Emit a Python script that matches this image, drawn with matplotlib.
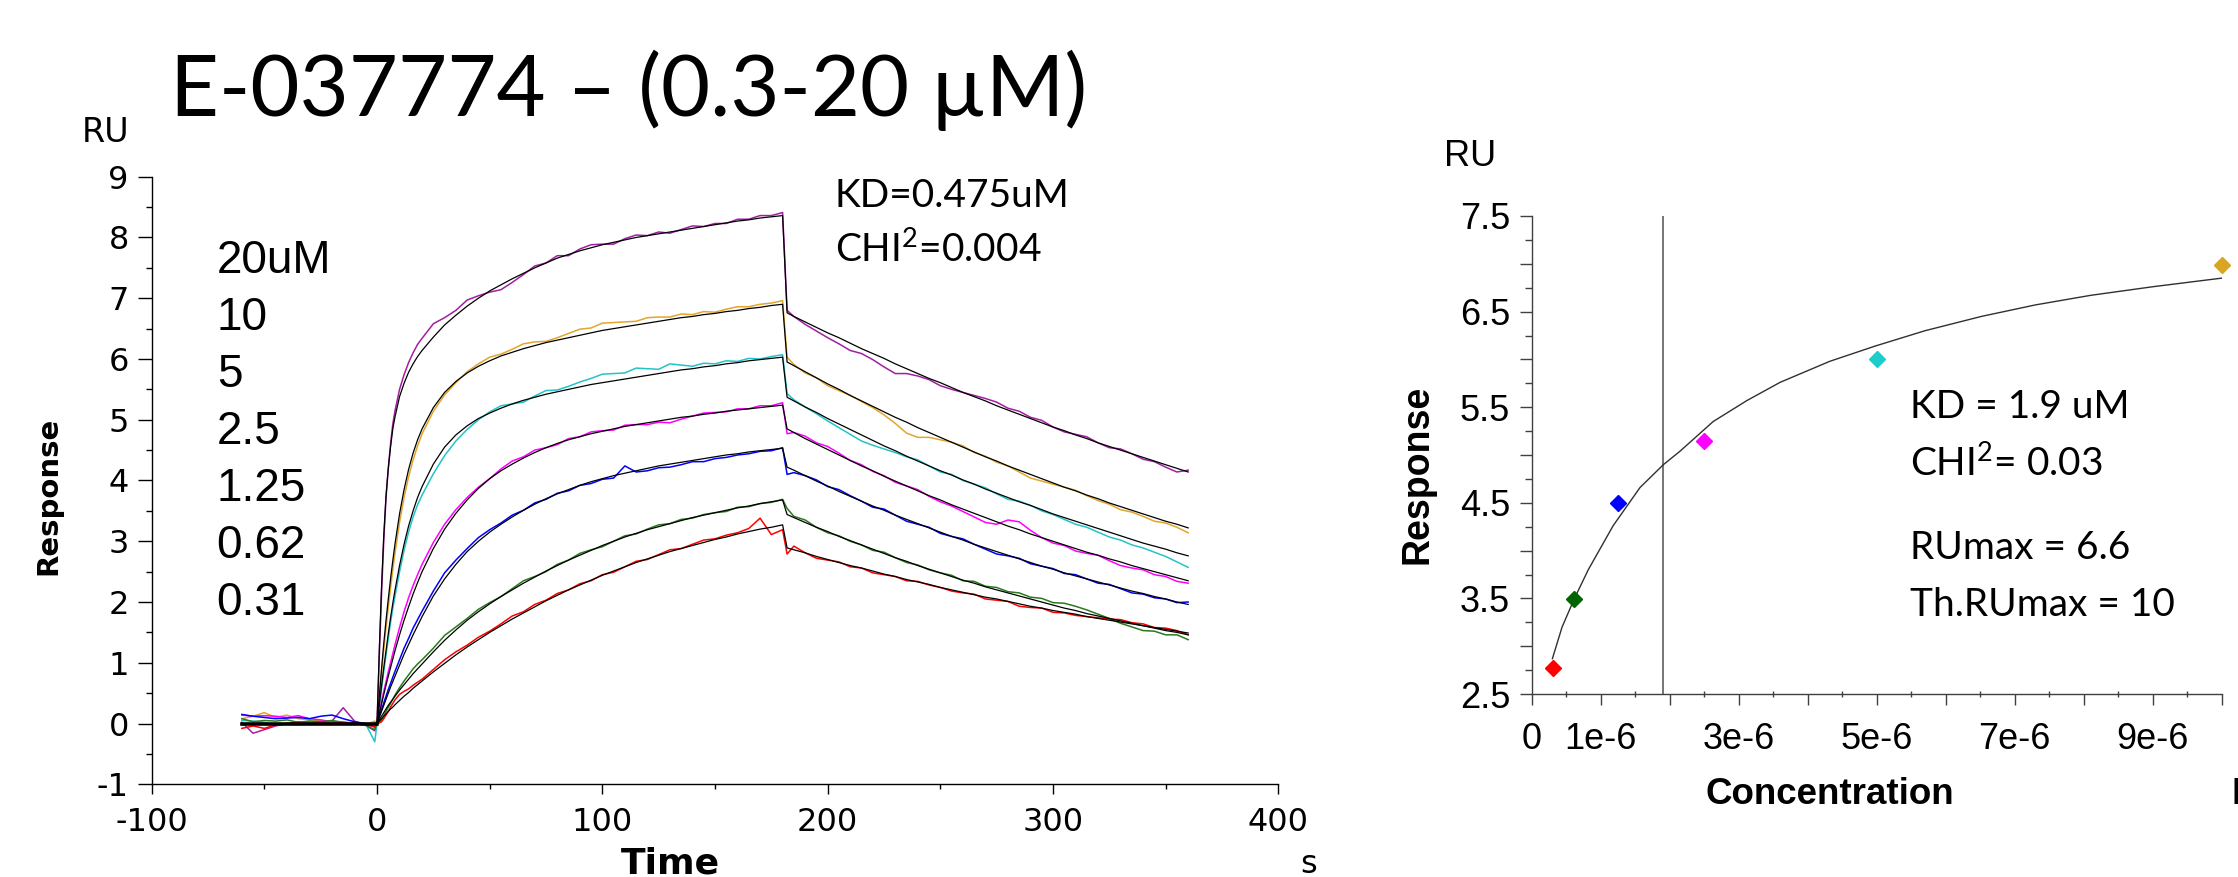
import numpy as np
import matplotlib.pyplot as plt
from matplotlib.ticker import MultipleLocator

plt.rcParams["axes.unicode_minus"] = False
plt.rcParams["mathtext.fontset"] = "custom"
plt.rcParams["mathtext.rm"] = "Lato"
plt.rcParams["mathtext.it"] = "Lato"

# ---- sensorgram time grids (s) ----
t_pre = [-60, -55, -50, -45, -40, -35, -30, -25, -20, -15, -10, -5, -1]
t_on = [0, 1, 2, 3, 4, 5, 6, 7, 8, 10, 12, 14, 16, 18, 20, 25, 30, 35, 40, 45, 50,
        55, 60, 65, 70, 75, 80, 85, 90, 95, 100, 105, 110, 115, 120, 125, 130, 135,
        140, 145, 150, 155, 160, 165, 170, 175, 180]
t_off = [182, 185, 190, 195, 200, 205, 210, 215, 220, 225, 230, 235, 240, 245, 250,
         255, 260, 265, 270, 275, 280, 285, 290, 295, 300, 305, 310, 315, 320, 325,
         330, 335, 340, 345, 350, 355, 360]

# ---- 1:1 fitted curves (RU), association / dissociation ----
on_20 = [0, 1.2, 2.25, 3.1, 3.75, 4.2, 4.55, 4.85, 5.05, 5.38, 5.6, 5.78, 5.92, 6.04, 6.14,
         6.36, 6.56, 6.72, 6.87, 7.0, 7.12, 7.22, 7.32, 7.41, 7.5, 7.58, 7.66, 7.72, 7.78,
         7.83, 7.88, 7.92, 7.96, 8.0, 8.03, 8.06, 8.09, 8.12, 8.15, 8.18, 8.21, 8.24, 8.27,
         8.29, 8.32, 8.34, 8.36]
on_10 = [0, 0.45, 0.9, 1.32, 1.7, 2.05, 2.38, 2.68, 2.96, 3.45, 3.85, 4.18, 4.45, 4.67, 4.85,
         5.2, 5.45, 5.63, 5.77, 5.88, 5.97, 6.05, 6.11, 6.17, 6.22, 6.27, 6.31, 6.35, 6.39,
         6.43, 6.47, 6.5, 6.53, 6.56, 6.59, 6.62, 6.65, 6.68, 6.7, 6.73, 6.75, 6.78, 6.8,
         6.83, 6.85, 6.88, 6.9]
on_5 = [0, 0.3, 0.62, 0.92, 1.2, 1.48, 1.74, 1.98, 2.2, 2.6, 2.95, 3.25, 3.5, 3.72, 3.9,
        4.27, 4.55, 4.75, 4.9, 5.02, 5.11, 5.19, 5.26, 5.32, 5.37, 5.42, 5.46, 5.5, 5.54,
        5.58, 5.61, 5.64, 5.67, 5.7, 5.73, 5.76, 5.79, 5.82, 5.84, 5.87, 5.89, 5.92, 5.94,
        5.97, 5.99, 6.01, 6.03]
on_2_5 = [0, 0.16, 0.32, 0.48, 0.63, 0.78, 0.92, 1.06, 1.2, 1.46, 1.7, 1.92, 2.13, 2.32, 2.5,
          2.88, 3.2, 3.46, 3.68, 3.87, 4.03, 4.16, 4.27, 4.37, 4.46, 4.54, 4.61, 4.67, 4.72,
          4.77, 4.81, 4.85, 4.89, 4.92, 4.95, 4.98, 5.01, 5.04, 5.06, 5.09, 5.11, 5.14, 5.16,
          5.18, 5.2, 5.22, 5.24]
on_1_25 = [0, 0.1, 0.2, 0.3, 0.4, 0.5, 0.6, 0.69, 0.78, 0.96, 1.14, 1.3, 1.46, 1.61, 1.76,
           2.1, 2.38, 2.62, 2.83, 3.0, 3.15, 3.28, 3.4, 3.51, 3.61, 3.7, 3.78, 3.85, 3.92,
           3.98, 4.03, 4.08, 4.12, 4.16, 4.2, 4.24, 4.27, 4.3, 4.33, 4.36, 4.39, 4.42, 4.44,
           4.47, 4.49, 4.51, 4.53]
on_0_62 = [0, 0.06, 0.12, 0.18, 0.24, 0.3, 0.35, 0.4, 0.45, 0.55, 0.64, 0.73, 0.82, 0.9, 0.98,
           1.18, 1.37, 1.54, 1.7, 1.84, 1.97, 2.09, 2.2, 2.31, 2.41, 2.51, 2.6, 2.69, 2.77,
           2.85, 2.93, 3.0, 3.07, 3.13, 3.19, 3.24, 3.29, 3.34, 3.39, 3.43, 3.47, 3.51, 3.55,
           3.58, 3.62, 3.65, 3.68]
on_0_31 = [0, 0.04, 0.08, 0.12, 0.16, 0.2, 0.24, 0.27, 0.31, 0.38, 0.45, 0.51, 0.58, 0.64, 0.7,
           0.85, 0.99, 1.13, 1.26, 1.38, 1.5, 1.61, 1.72, 1.82, 1.92, 2.02, 2.11, 2.2, 2.28,
           2.36, 2.44, 2.51, 2.58, 2.65, 2.71, 2.77, 2.83, 2.88, 2.93, 2.98, 3.03, 3.07, 3.12,
           3.16, 3.2, 3.23, 3.27]

off_20 = [6.76, 6.70, 6.61, 6.52, 6.43, 6.35, 6.26, 6.17, 6.09, 6.01, 5.92, 5.84, 5.76, 5.68,
          5.61, 5.53, 5.45, 5.38, 5.31, 5.23, 5.16, 5.09, 5.02, 4.95, 4.88, 4.82, 4.75, 4.69,
          4.62, 4.56, 4.50, 4.44, 4.38, 4.32, 4.26, 4.20, 4.14]
off_10 = [5.95, 5.89, 5.79, 5.69, 5.59, 5.50, 5.40, 5.31, 5.22, 5.13, 5.04, 4.96, 4.87, 4.79,
          4.71, 4.63, 4.55, 4.47, 4.39, 4.32, 4.24, 4.17, 4.10, 4.03, 3.96, 3.89, 3.83, 3.76,
          3.70, 3.63, 3.57, 3.51, 3.45, 3.39, 3.33, 3.28, 3.22]
off_5 = [5.37, 5.31, 5.21, 5.12, 5.02, 4.93, 4.84, 4.75, 4.66, 4.57, 4.49, 4.40, 4.32, 4.24,
         4.16, 4.09, 4.01, 3.94, 3.86, 3.79, 3.72, 3.65, 3.59, 3.52, 3.45, 3.39, 3.33, 3.27,
         3.21, 3.15, 3.09, 3.03, 2.97, 2.92, 2.87, 2.81, 2.76]
off_2_5 = [4.85, 4.79, 4.69, 4.60, 4.51, 4.42, 4.33, 4.24, 4.16, 4.07, 3.99, 3.91, 3.83, 3.75,
           3.68, 3.60, 3.53, 3.46, 3.39, 3.32, 3.25, 3.19, 3.12, 3.06, 3.00, 2.94, 2.88, 2.82,
           2.77, 2.71, 2.66, 2.60, 2.55, 2.50, 2.45, 2.40, 2.35]
off_1_25 = [4.22, 4.17, 4.08, 3.99, 3.91, 3.82, 3.74, 3.66, 3.58, 3.51, 3.43, 3.36, 3.29, 3.22,
            3.15, 3.08, 3.02, 2.95, 2.89, 2.83, 2.77, 2.71, 2.65, 2.59, 2.54, 2.48, 2.43, 2.38,
            2.33, 2.28, 2.23, 2.18, 2.14, 2.09, 2.05, 2.00, 1.96]
off_0_62 = [3.44, 3.39, 3.31, 3.23, 3.16, 3.08, 3.01, 2.94, 2.87, 2.80, 2.73, 2.67, 2.60, 2.54,
            2.48, 2.42, 2.36, 2.31, 2.25, 2.20, 2.15, 2.10, 2.05, 2.00, 1.95, 1.90, 1.86, 1.81,
            1.77, 1.73, 1.69, 1.65, 1.61, 1.57, 1.53, 1.50, 1.46]
off_0_31 = [2.89, 2.86, 2.81, 2.75, 2.70, 2.65, 2.60, 2.56, 2.51, 2.46, 2.42, 2.37, 2.33, 2.29,
            2.24, 2.20, 2.16, 2.12, 2.08, 2.05, 2.01, 1.97, 1.93, 1.90, 1.86, 1.83, 1.80, 1.76,
            1.73, 1.70, 1.67, 1.64, 1.61, 1.58, 1.55, 1.52, 1.49]

# ---- measured traces: baseline (0.01 RU) and residuals from the fit (0.01 RU) ----
pre_20 = [2, -16, -10, -4, 0, 3, 2, 0, 4, 26, 4, -3, -12]
pre_10 = [8, 12, 18, 10, 14, 8, 6, 5, 3, 2, 0, -2, 4]
pre_5 = [5, 4, 2, -3, 0, -2, 1, 2, 0, 2, 0, -1, -30]
pre_2_5 = [14, 12, 13, 12, 10, 13, 8, 6, 3, 2, 1, -1, 0]
pre_1_25 = [15, 12, 10, 8, 9, 10, 8, 12, 14, 8, 3, 0, -6]
pre_0_62 = [8, 3, 5, 4, 6, 2, 4, 3, 5, 2, 0, -3, -10]
pre_0_31 = [-8, -4, -8, -2, 0, 1, -1, 2, 0, 1, 0, -2, -5]

res_on_20 = [0, -10, -12, -8, -3, 0, 5, 8, 10, 12, 14, 16, 18, 20, 20, 22, 12, 8, 10, 4, -2,
             -8, -6, -2, 3, 0, 4, -2, 3, 5, 1, -3, 2, 4, 0, 3, -2, 1, 4, 0, 2, -1, 3, 1, 4, 2, 5]
res_on_10 = [0, -5, -8, -10, -12, -14, -15, -15, -15, -14, -13, -12, -11, -10, -8, -6, -4, -2,
             2, 4, 6, 3, 5, 8, 6, 2, 4, 7, 10, 8, 12, 10, 8, 6, 9, 7, 4, 6, 3, 5, 2, 4, 6, 3, 5, 4, 6]
res_on_5 = [0, -3, -5, -6, -7, -8, -8, -9, -10, -10, -10, -10, -10, -12, -14, -16, -14, -10,
            -6, -2, 2, 4, 0, -3, 2, 6, 3, 5, 8, 10, 14, 12, 10, 15, 11, 7, 13, 8, 4, 6, 3, 5,
            2, 4, 1, 3, 4]
res_on_2_5 = [0, 2, 4, 5, 6, 7, 8, 9, 10, 12, 14, 15, 14, 13, 12, 10, 8, 6, 4, 2, 0, 3, 5, 2,
              4, 0, -2, 2, 0, 3, 1, -2, 2, 0, -3, -2, -6, -3, 0, 2, 1, -1, 2, 0, 3, 1, 4]
res_on_1_25 = [0, 2, 3, 4, 5, 6, 6, 7, 8, 9, 10, 10, 11, 10, 9, 8, 10, 7, 5, 6, 4, 2, 3, 0, 2,
               -1, 1, -2, 0, -3, -1, -4, 12, -2, -4, -3, -5, -4, -2, -5, -3, -4, -2, -3, -1, -2, 1]
res_on_0_62 = [0, -4, -6, -5, -4, -3, -2, 0, 2, 4, 6, 7, 8, 8, 7, 6, 8, 5, 3, 4, 2, 0, 2, 4, 1,
               -1, 2, 0, 3, 1, -2, 0, 2, -1, 1, 3, 0, 2, -1, 1, 0, -2, 1, -1, 0, -1, 1]
res_on_0_31 = [0, -3, -5, -4, -2, 0, 3, 6, 8, 10, 8, 6, 5, 4, 3, 4, 6, 5, 3, 4, 2, 3, 5, 2, 4,
               1, 3, 0, 2, -1, 1, -2, 0, 2, -1, 1, 3, 0, 2, 4, 1, 3, 2, 5, 18, -12, -8]

res_off_20 = [4, 0, -4, -6, -8, -10, -12, -8, -10, -14, -16, -8, -4, -2, -5, -3, 0, 2, 4, 6, 3,
              5, 2, 4, 0, -2, 1, 3, 0, -2, 2, 0, -3, -1, -4, -6, 3]
res_off_10 = [8, 2, -2, 0, -3, -2, 0, -1, -2, -5, -10, -18, -16, -8, -4, 0, 2, -1, 1, -2, 0,
              -3, -6, -4, -2, 0, 1, -1, -3, -2, -5, -3, -4, -6, -3, -5, -8]
res_off_5 = [6, 2, 0, -2, -4, -6, -8, -10, -8, -5, -3, -1, 2, 0, -2, 1, -1, 0, 2, -1, -3, 1, 0,
             -2, -1, -3, -5, -4, -6, -8, -7, -9, -8, -10, -12, -15, -19]
res_off_2_5 = [-8, 0, 4, 2, 5, 3, 0, 2, -1, 1, -2, 0, 2, -1, -3, -2, -4, -6, -8, -4, 10, 13,
               6, 0, -3, -1, -4, -2, 0, -3, -6, -4, -2, -5, -3, -6, -4]
res_off_1_25 = [-12, -4, 0, 2, -1, 3, 1, 0, -2, 2, 0, -3, -1, 1, -2, 0, 2, 0, -2, -4, -1, 1,
                -2, 0, 1, -1, 2, 0, -2, 1, -1, -3, -1, -2, 0, -1, 4]
res_off_0_62 = [10, 2, 4, 0, -2, 1, -1, 0, -2, 2, 0, -2, 1, -1, 0, 2, -1, 3, 1, 4, 2, 5, 3, 6,
                4, 8, 7, 6, 3, 0, -4, -6, -8, -5, -7, -4, -8]
res_off_0_31 = [-10, 6, 0, -3, -1, 1, -2, 0, -3, -1, 0, -2, 1, -1, 0, -2, -1, 1, -3, -2, 0, -4,
                -2, 0, -3, -1, -2, 0, 1, 2, 4, 2, 3, 0, 2, 1, -3]

conc_labels = ["20uM", "10", "5", "2.5", "1.25", "0.62", "0.31"]
trace_colors = ["#A21FA2", "#E3A52A", "#22C4C8", "#FF00FF", "#0000FF", "#2A7A1E", "#FF0000"]

# ---- steady-state affinity panel ----
conc_M = [0.31e-6, 0.62e-6, 1.25e-6, 2.5e-6, 5.0e-6, 10.0e-6]
resp_eq = [2.77, 3.49, 4.50, 5.15, 6.00, 6.99]
point_colors = ["#FF0000", "#006400", "#0000FF", "#FF00FF", "#1FCCCC", "#DAA520"]
fit_conc_uM = [0.30, 0.44, 0.62, 0.82, 1.00, 1.18, 1.57, 1.91, 2.15, 2.63, 3.12, 3.60, 4.32,
               4.98, 5.70, 6.52, 7.30, 8.10, 9.00, 10.0]
fit_resp = [2.87, 3.20, 3.50, 3.80, 4.03, 4.26, 4.66, 4.90, 5.04, 5.35, 5.57, 5.76, 5.98,
            6.14, 6.30, 6.45, 6.57, 6.67, 6.76, 6.85]
kd_M = 1.9e-6

kin_xticks = [-100, 0, 100, 200, 300, 400]
kin_yticks = [-1, 0, 1, 2, 3, 4, 5, 6, 7, 8, 9]
aff_xticks = [0, 1e-6, 2e-6, 3e-6, 4e-6, 5e-6, 6e-6, 7e-6, 8e-6, 9e-6, 1e-5]
aff_xlabels = ["0", "1e-6", "", "3e-6", "", "5e-6", "", "7e-6", "", "9e-6", ""]
aff_yticks = [2.5, 3.0, 3.5, 4.0, 4.5, 5.0, 5.5, 6.0, 6.5, 7.0, 7.5]
aff_ylabels = ["2.5", "", "3.5", "", "4.5", "", "5.5", "", "6.5", "", "7.5"]

series = [
    (pre_20, on_20, off_20, res_on_20, res_off_20),
    (pre_10, on_10, off_10, res_on_10, res_off_10),
    (pre_5, on_5, off_5, res_on_5, res_off_5),
    (pre_2_5, on_2_5, off_2_5, res_on_2_5, res_off_2_5),
    (pre_1_25, on_1_25, off_1_25, res_on_1_25, res_off_1_25),
    (pre_0_62, on_0_62, off_0_62, res_on_0_62, res_off_0_62),
    (pre_0_31, on_0_31, off_0_31, res_on_0_31, res_off_0_31),
]

W, H = 2238, 877
fig = plt.figure(figsize=(W / 100, H / 100), dpi=100)


def px(x, y):
    # pixel position (from top-left) -> figure fraction
    return x / W, 1 - y / H


def axes_px(x0, y0, x1, y1):
    return [x0 / W, 1 - y1 / H, (x1 - x0) / W, (y1 - y0) / H]


KIN_FONT = "DejaVu Sans"
ARIAL = "Liberation Sans"
CALIBRI = "Lato"

# ================= kinetics sensorgram =================
ax = fig.add_axes(axes_px(151.7, 176.7, 1278.3, 784.3))
t_all = np.concatenate([t_pre, t_on, t_off])
t_fit = np.concatenate([t_on, t_off])
for (pre, on, off, r_on, r_off), col in zip(series, trace_colors):
    trace = np.concatenate([np.array(pre) / 100,
                            np.array(on) + np.array(r_on) / 100,
                            np.array(off) + np.array(r_off) / 100])
    ax.plot(t_all, trace, color=col, lw=1.1, zorder=2)
for (pre, on, off, r_on, r_off) in series:
    ax.plot(t_fit, np.concatenate([on, off]), color="black", lw=0.9, zorder=3)
ax.plot([t_pre[0], 0], [0, 0], color="black", lw=2.6, zorder=3)

ax.set_xlim(-100, 400)
ax.set_ylim(-1, 9)
ax.set_xticks(kin_xticks)
ax.set_yticks(kin_yticks)
ax.xaxis.set_minor_locator(MultipleLocator(50))
ax.yaxis.set_minor_locator(MultipleLocator(0.5))
for s in ("top", "right"):
    ax.spines[s].set_visible(False)
for s in ("left", "bottom"):
    ax.spines[s].set_linewidth(1.0)
ax.tick_params(axis="x", which="major", direction="out", length=7.2, width=1.0, pad=9,
               labelsize=23)
ax.tick_params(axis="x", which="minor", direction="out", length=3.6, width=1.0)
ax.tick_params(axis="y", which="major", direction="out", length=10, width=1.0, pad=6.5,
               labelsize=23)
ax.tick_params(axis="y", which="minor", direction="out", length=4.3, width=1.0)
for lab in ax.get_xticklabels() + ax.get_yticklabels():
    lab.set_family(KIN_FONT)

fig.text(*px(106, 132), "RU", family=KIN_FONT, fontsize=24, ha="center", va="center")
fig.text(*px(48, 496), "Response", family=KIN_FONT, fontsize=21, weight="bold",
         rotation=90, ha="center", va="center")
fig.text(*px(670, 874), "Time", family=KIN_FONT, fontsize=26, weight="bold",
         ha="center", va="baseline")
fig.text(*px(1309, 873), "s", family=KIN_FONT, fontsize=23, ha="center", va="baseline")

for i, lab in enumerate(conc_labels):
    fig.text(*px(216.7, 273.3 + i * 57.0), lab, family=ARIAL, fontsize=33, va="baseline")

fig.text(*px(835, 207.3), "KD=0.475uM", family=CALIBRI, fontsize=28, va="baseline")
fig.text(*px(835, 261.7), "CHI$^2$=0.004", family=CALIBRI, fontsize=28, va="baseline")

fig.text(*px(170, 116), "E-037774 \u2013 (0.3-20 \u00b5M)", family=CALIBRI, fontsize=61,
         va="baseline")

# ================= steady-state affinity =================
ax2 = fig.add_axes(axes_px(1531.7, 216, 2221.7, 694))
ax2.axvline(kd_M, color="#505050", lw=1.1, zorder=1)
ax2.plot(np.array(fit_conc_uM) * 1e-6, fit_resp, color="#303030", lw=1.0, zorder=2)
for c, r, col in zip(conc_M, resp_eq, point_colors):
    ax2.plot(c, r, marker="D", ms=8.2, color=col, mec=col, ls="none", zorder=3,
             clip_on=False)

ax2.set_xlim(0, 1e-5)
ax2.set_ylim(2.5, 7.5)
ax2.set_xticks(aff_xticks)
ax2.set_xticklabels(aff_xlabels)
ax2.set_yticks(aff_yticks)
ax2.set_yticklabels(aff_ylabels)
ax2.xaxis.set_minor_locator(MultipleLocator(0.5e-6))
ax2.yaxis.set_minor_locator(MultipleLocator(0.25))
for s in ("top", "right"):
    ax2.spines[s].set_visible(False)
for s in ("left", "bottom"):
    ax2.spines[s].set_color("#404040")
    ax2.spines[s].set_linewidth(1.0)
ax2.tick_params(axis="x", which="major", direction="out", length=8, width=1.0, pad=12,
                labelsize=26, color="#404040")
ax2.tick_params(axis="x", which="minor", direction="inout", length=5, width=1.0,
                color="#404040")
ax2.tick_params(axis="y", which="major", direction="out", length=8.4, width=1.0, pad=7.2,
                labelsize=26, color="#404040")
ax2.tick_params(axis="y", which="minor", direction="out", length=5, width=1.0,
                color="#404040")
for lab in ax2.get_xticklabels() + ax2.get_yticklabels():
    lab.set_family(ARIAL)

fig.text(*px(1470, 157), "RU", family=ARIAL, fontsize=26, ha="center", va="center")
fig.text(*px(1418, 474), "Response", family=ARIAL, fontsize=27, weight="bold",
         rotation=90, ha="center", va="center")
fig.text(*px(1830, 804.5), "Concentration", family=ARIAL, fontsize=26.5, weight="bold",
         ha="center", va="baseline")
fig.text(*px(2231, 804.5), "M", family=ARIAL, fontsize=26.5, weight="bold",
         ha="left", va="baseline")

fig.text(*px(1909.5, 417.6), "KD = 1.9 uM", family=CALIBRI, fontsize=28, va="baseline")
fig.text(*px(1909.5, 475.7), "CHI$^2$= 0.03", family=CALIBRI, fontsize=28, va="baseline")
fig.text(*px(1909.5, 559), "RUmax = 6.6", family=CALIBRI, fontsize=28, va="baseline")
fig.text(*px(1909.5, 616), "Th.RUmax = 10", family=CALIBRI, fontsize=28, va="baseline")

fig.savefig("out.png", dpi=100)
